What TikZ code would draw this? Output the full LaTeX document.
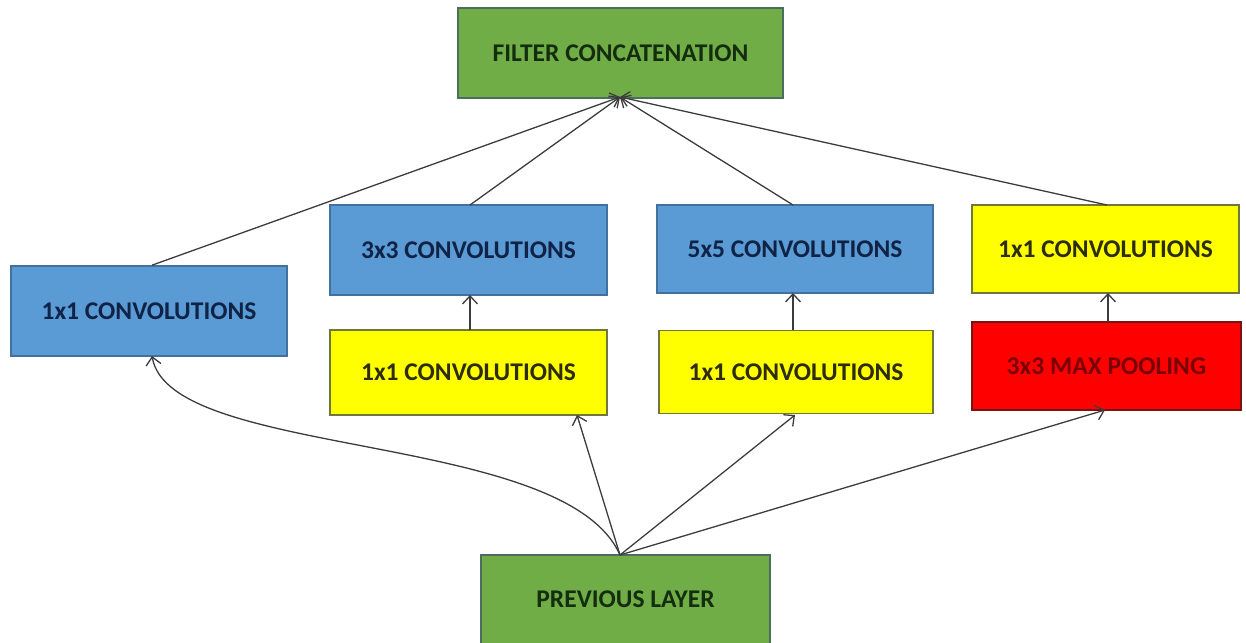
\documentclass[tikz,border=0pt]{standalone}
\usepackage{fontspec}
\setmainfont{Carlito}
\usetikzlibrary{arrows.meta}
\definecolor{gfill}{RGB}{112,173,71}
\definecolor{gline}{RGB}{75,110,95}
\definecolor{gtext}{RGB}{20,45,15}
\definecolor{bfill}{RGB}{91,155,213}
\definecolor{bline}{RGB}{65,113,156}
\definecolor{btext}{RGB}{15,35,70}
\definecolor{yfill}{RGB}{255,255,0}
\definecolor{yline}{RGB}{110,120,60}
\definecolor{ytext}{RGB}{45,45,10}
\definecolor{rfill}{RGB}{255,0,0}
\definecolor{rline}{RGB}{120,20,20}
\definecolor{rtext}{RGB}{120,0,0}
\definecolor{aline}{RGB}{60,60,60}
\tikzset{
  box/.style={rectangle, line width=1.6pt, font=\fontsize{25.5}{30}\selectfont\bfseries, inner sep=0pt},
  gbox/.style={box, fill=gfill, draw=gline, text=gtext},
  bbox/.style={box, fill=bfill, draw=bline, text=btext},
  ybox/.style={box, fill=yfill, draw=yline, text=ytext},
  rbox/.style={box, fill=rfill, draw=rline, text=rtext},
  conn/.style={draw=aline, line width=1.3pt, -{Straight Barb[length=8pt,width=15pt,line width=1.3pt]}}
}
\begin{document}
\begin{tikzpicture}[x=1pt,y=-1pt]
\useasboundingbox (0,0) rectangle (1246,642);
\node[gbox, minimum width=325pt, minimum height=90pt] (concat) at (620.5,53) {FILTER CONCATENATION};
\node[bbox, minimum width=276pt, minimum height=90pt] (c1) at (149,311) {1x1 CONVOLUTIONS};
\node[bbox, minimum width=277pt, minimum height=90pt] (c3) at (468.5,250) {3x3 CONVOLUTIONS};
\node[ybox, minimum width=277pt, minimum height=85pt] (y1) at (468.5,372.5) {1x1 CONVOLUTIONS};
\node[bbox, minimum width=276pt, minimum height=88pt] (c5) at (795,249) {5x5 CONVOLUTIONS};
\node[ybox, minimum width=274pt, minimum height=83pt] (y2) at (796,372) {1x1 CONVOLUTIONS};
\node[ybox, minimum width=267pt, minimum height=88pt] (yr) at (1105.5,249) {1x1 CONVOLUTIONS};
\node[rbox, minimum width=269pt, minimum height=88pt] (pool) at (1106.5,366) {3x3 MAX POOLING};
\node[gbox, minimum width=289pt, minimum height=92pt] (prev) at (625.5,601) {\raisebox{3pt}{PREVIOUS LAYER}};
\coordinate (src) at (620,555);
\coordinate (dst) at (620,97);
% top arrows
\draw[conn] (c1.north) ++(3,0) -- (dst);
\draw[conn] (470,205) -- (dst);
\draw[conn] (793,205) -- (dst);
\draw[conn] (1107,205) -- (dst);
% vertical arrows
\draw[conn] (470,330) -- (470,295);
\draw[conn] (793,330) -- (793,293);
\draw[conn] (1108,322) -- (1108,293);
% bottom arrows
\draw[conn] (src) .. controls (565,430) and (170,460) .. (152,356);
\draw[conn] (src) -- (577,415);
\draw[conn] (src) -- (795,415);
\draw[conn] (src) -- (1105,410);
\end{tikzpicture}
\end{document}
